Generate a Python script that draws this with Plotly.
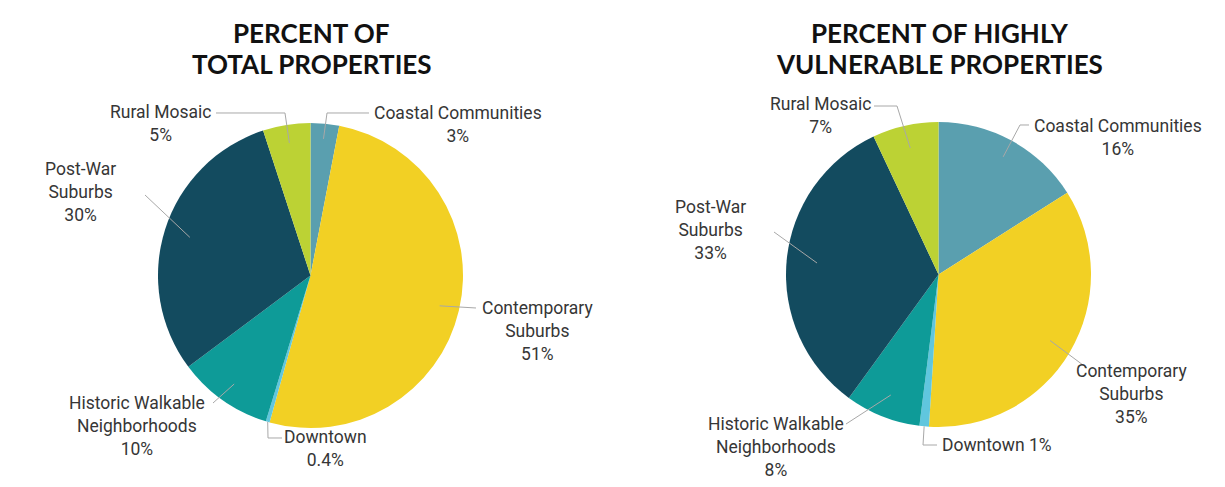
import math
import plotly.graph_objects as go

W, H = 1225, 487

categories = ["Coastal Communities", "Contemporary Suburbs", "Downtown",
              "Historic Walkable Neighborhoods", "Post-War Suburbs", "Rural Mosaic"]
total_pct = [3, 51, 0.4, 10, 30, 5]
vulnerable_pct = [16, 35, 1, 8, 33, 7]

colors = ["#5A9FAF", "#F2D024", "#60C6DE", "#0E9B98", "#134B5F", "#BCD234"]

left_labels = ["Coastal Communities<br>3%", "Contemporary<br>Suburbs<br>51%", "Downtown<br>0.4%",
               "Historic Walkable<br>Neighborhoods<br>10%", "Post-War<br>Suburbs<br>30%", "Rural Mosaic<br>5%"]
right_labels = ["Coastal Communities<br>16%", "Contemporary<br>Suburbs<br>35%", "Downtown 1%",
                "Historic Walkable<br>Neighborhoods<br>8%", "Post-War<br>Suburbs<br>33%", "Rural Mosaic<br>7%"]

titles = [["PERCENT OF", "TOTAL PROPERTIES"], ["PERCENT OF HIGHLY", "VULNERABLE PROPERTIES"]]

# layout geometry (pixels)
R = 152.5
centers = [(310.5, 275.5), (938.5, 274.5)]
title_rows = [33, 64]

# label layout: text center, leader outer point(s), inner radius fraction
left_layout = [
    dict(tx=458, ty=124, pts=[(369, 113), (327, 113)], rf=0.9),
    dict(tx=537, ty=331, pts=[(476, 308)], rf=0.87),
    dict(tx=325, ty=448, pts=[(282, 438), (268, 438)], rf=1.0),
    dict(tx=137, ty=426, pts=[(213, 403)], rf=0.87),
    dict(tx=80, ty=192, pts=[(145, 195)], rf=0.83),
    dict(tx=160, ty=123, pts=[(216, 113), (285, 113)], rf=0.88),
]
right_layout = [
    dict(tx=1118, ty=137, pts=[(1029, 125), (1020, 125)], rf=0.88),
    dict(tx=1131, ty=394, pts=[(1087, 368)], rf=0.85),
    dict(tx=997, ty=445, pts=[(937, 445), (923, 445)], rf=1.0),
    dict(tx=776, ty=447, pts=[(846, 424)], rf=0.85),
    dict(tx=710, ty=230, pts=[(774, 232)], rf=0.8),
    dict(tx=820, ty=116, pts=[(874, 106), (897, 106)], rf=0.85),
]


def px(x):
    return x / W


def py(y):
    return 1 - y / H


fig = go.Figure()
shapes = []
annotations = []

label_font = dict(family="Roboto, Arial, sans-serif", size=17.5, color="#363636")

for i, (vals, labs, lay, title) in enumerate(zip([total_pct, vulnerable_pct],
                                                 [left_labels, right_labels],
                                                 [left_layout, right_layout], titles)):
    cx, cy = centers[i]
    fig.add_trace(go.Pie(
        labels=categories, values=vals, sort=False, direction="clockwise", rotation=0,
        marker=dict(colors=colors, line=dict(width=0)),
        textinfo="none", hoverinfo="label+percent", showlegend=False,
        domain=dict(x=[px(cx - R), px(cx + R)], y=[py(cy + R), py(cy - R)]),
    ))
    s = sum(vals)
    cum = 0
    for v, lab, L in zip(vals, labs, lay):
        mid = (cum + v / 2) / s * 2 * math.pi
        cum += v
        ix = cx + L["rf"] * R * math.sin(mid)
        iy = cy - L["rf"] * R * math.cos(mid)
        pts = L["pts"] + [(ix, iy)]
        path = "M " + " L ".join(f"{px(x):.5f},{py(y):.5f}" for x, y in pts)
        shapes.append(dict(type="path", path=path, xref="paper", yref="paper",
                           line=dict(color="#A8A8A8", width=1)))
        annotations.append(dict(text=lab, x=px(L["tx"]), y=py(L["ty"]), xref="paper", yref="paper",
                                showarrow=False, xanchor="center", yanchor="middle",
                                align="center", font=label_font))
    for row, ty in zip(title, title_rows):
        annotations.append(dict(text=f"<b>{row}</b>", x=px(cx + 1), y=py(ty), xref="paper", yref="paper",
                                showarrow=False, xanchor="center", yanchor="middle", align="center",
                                borderpad=0,
                                font=dict(family="Lato, 'Open Sans', sans-serif", size=26, color="#111111")))

fig.update_layout(
    width=W, height=H, margin=dict(l=0, r=0, t=0, b=0),
    paper_bgcolor="white", plot_bgcolor="white",
    shapes=shapes, annotations=annotations,
)

fig.write_html("out.html")
